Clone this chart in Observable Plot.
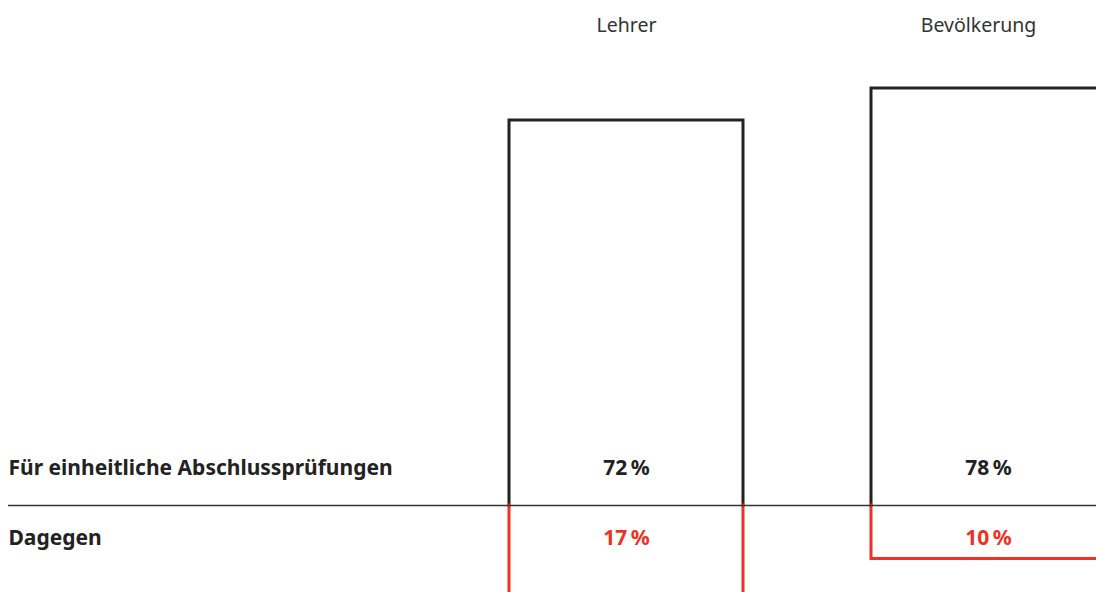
<!DOCTYPE html>
<html><head><meta charset="utf-8">
<script src="https://cdn.jsdelivr.net/npm/d3@7"></script>
<script src="https://cdn.jsdelivr.net/npm/@observablehq/plot@0.6"></script>
<style>
html,body{margin:0;padding:0;background:#fff;}
svg{display:block;overflow:hidden;}
</style>
</head><body>
<div id="chart"></div>
<script>
const groups = ["Lehrer", "Bevölkerung"];
const forValues = [72, 78];
const againstValues = [17, 10];
const rowLabels = ["Für einheitliche Abschlussprüfungen", "Dagegen"];

const forData = groups.map((g, i) => ({group: g, value: forValues[i]}));
const againstData = groups.map((g, i) => ({group: g, value: againstValues[i]}));

const BLACK = "#222222";
const RED = "#ee3124";
const FONT = "'Noto Sans', sans-serif";

const chart = Plot.plot({
  width: 1096,
  height: 592,
  marginLeft: 8,
  marginRight: 0,
  marginTop: 0,
  marginBottom: 0,
  style: {fontFamily: FONT, background: "#fff"},
  x: {domain: groups, range: [509, 1105], paddingInner: 0.354, paddingOuter: 0, align: 0, axis: null},
  y: {domain: [0, 78], range: [505, 88], axis: null},
  marks: [
    Plot.rectY(forData, {x: "group", y1: 0, y2: "value", fill: "none", stroke: BLACK, strokeWidth: 3, className: "bar-for"}),
    Plot.rectY(againstData, {x: "group", y1: 0, y2: d => -d.value, fill: "none", stroke: RED, strokeWidth: 3, className: "bar-against"}),
    Plot.ruleY([0], {stroke: "#333", strokeWidth: 1.6}),
    Plot.text([groups[0]], {x: d => d, frameAnchor: "top", dy: 25, lineAnchor: "middle", fontSize: 19.5, fill: "#333", text: d => d}),
    Plot.text([groups[1]], {x: d => d, frameAnchor: "top", dy: 25, dx: -10, lineAnchor: "middle", fontSize: 19.5, fill: "#333", text: d => d}),
    Plot.text(forData, {x: "group", y: 0, dy: -37, text: d => d.value + "\u202F%", fontSize: 21, fontWeight: "bold", fill: BLACK, lineAnchor: "middle"}),
    Plot.text(againstData, {x: "group", y: 0, dy: 33, text: d => d.value + "\u202F%", fontSize: 21, fontWeight: "bold", fill: RED, lineAnchor: "middle"}),
    Plot.text([rowLabels[0]], {frameAnchor: "left", y: [0], dy: -37, text: d => d, textAnchor: "start", fontSize: 21, fontWeight: "bold", fill: BLACK, lineAnchor: "middle"}),
    Plot.text([rowLabels[1]], {frameAnchor: "left", y: [0], dy: 33, text: d => d, textAnchor: "start", fontSize: 21, fontWeight: "bold", fill: BLACK, lineAnchor: "middle"})
  ]
});
// open outlines: skip the edge lying on the baseline
d3.select(chart).selectAll("g.bar-for rect").each(function() {
  const w = +this.getAttribute("width"), h = +this.getAttribute("height");
  d3.select(this).attr("stroke-dasharray", `${w + h} ${w} ${h}`).attr("stroke-linecap", "square");
});
d3.select(chart).selectAll("g.bar-against rect").each(function() {
  const w = +this.getAttribute("width"), h = +this.getAttribute("height");
  d3.select(this).attr("stroke-dasharray", `0 ${w} ${w + 2 * h}`).attr("stroke-linecap", "square");
});
document.getElementById("chart").appendChild(chart);
</script>
</body></html>
